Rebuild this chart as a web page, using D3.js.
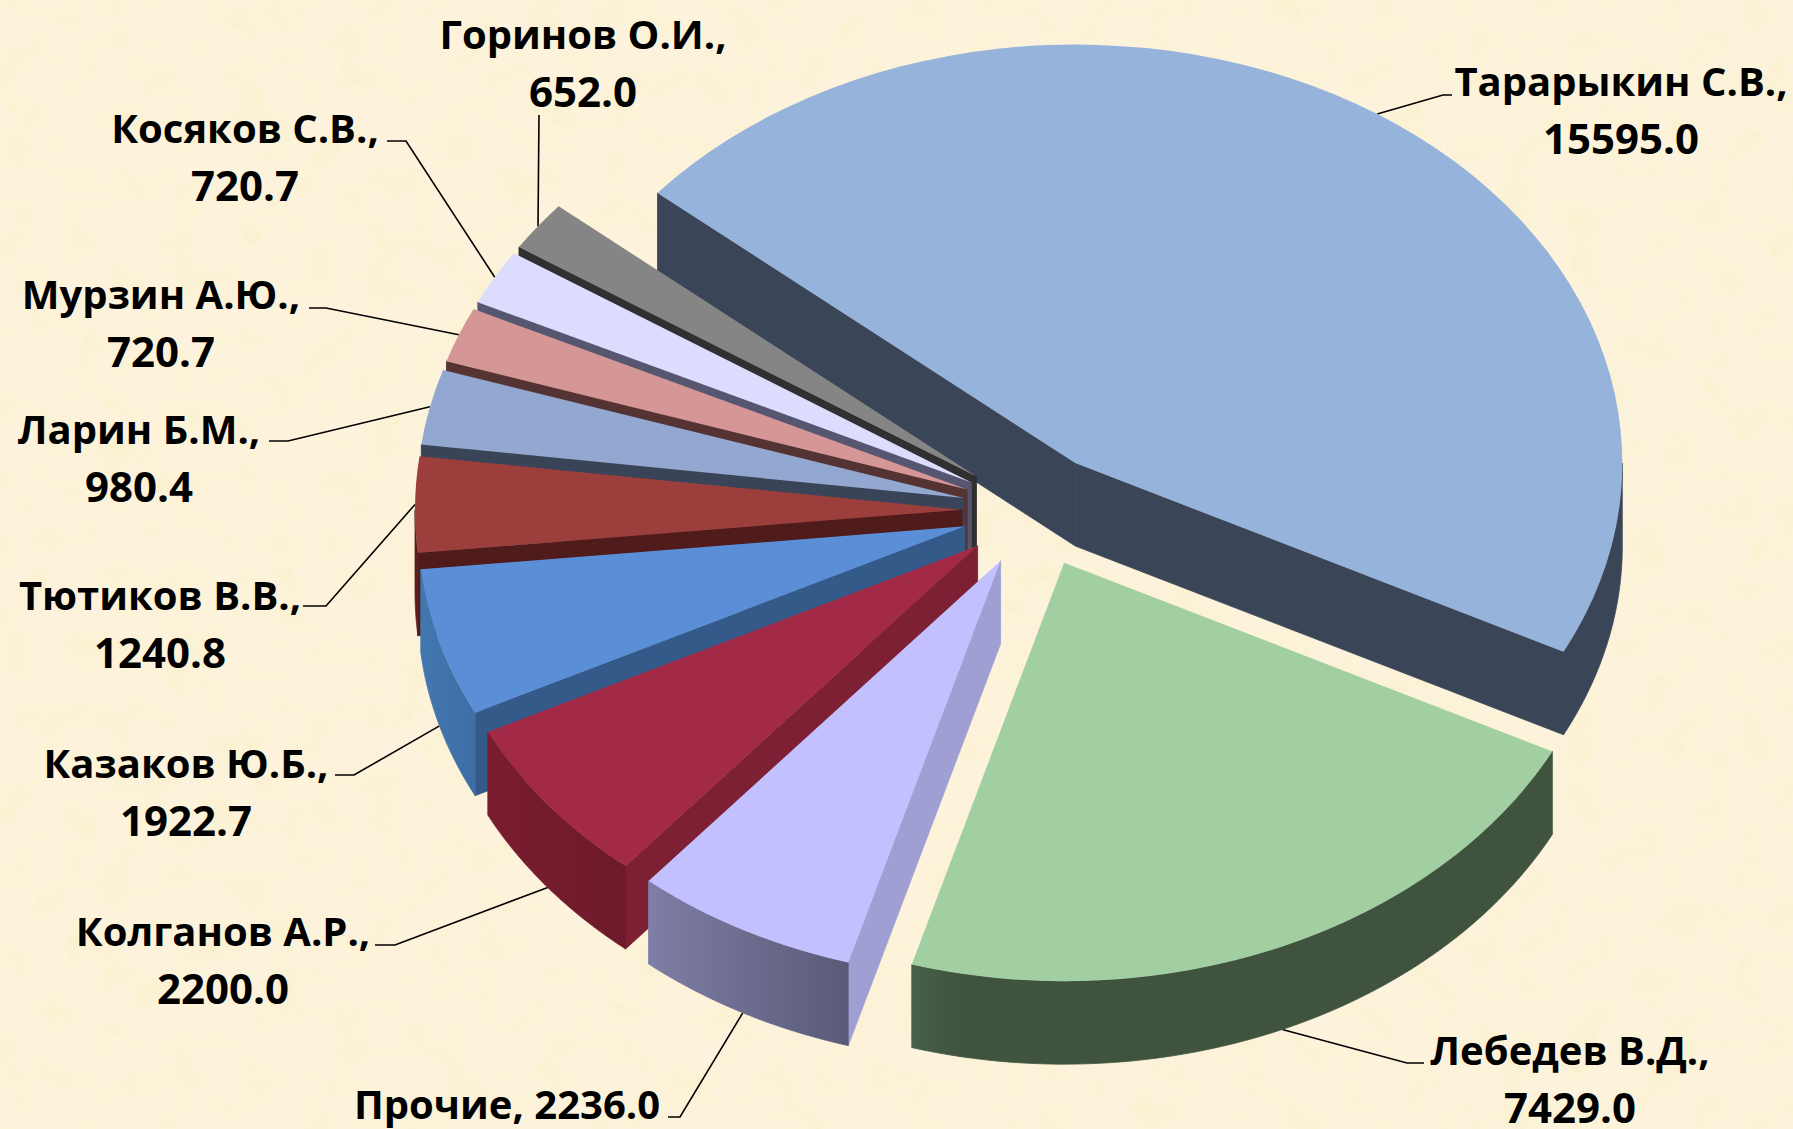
<!DOCTYPE html>
<html><head><meta charset="utf-8">
<script src="https://cdnjs.cloudflare.com/ajax/libs/d3/7.8.5/d3.min.js"></script>
<style>html,body{margin:0;padding:0;background:#fcf2da;overflow:hidden}svg{display:block}
text{font-family:"Open Sans","Noto Sans",sans-serif;font-weight:700;fill:#000}</style>
</head><body><svg id="c" width="1793" height="1129"></svg>
<script>
const categories=["Тарарыкин С.В.","Лебедев В.Д.","Прочие","Колганов А.Р.","Казаков Ю.Б.","Тютиков В.В.","Ларин Б.М.","Мурзин А.Ю.","Косяков С.В.","Горинов О.И."];
const values=[15595.0,7429.0,2236.0,2200.0,1922.7,1240.8,980.4,720.7,720.7,652.0];
const topColors=["#96b3db","#a1cfa1","#c2c0ff","#a32a47","#5a8fd8","#9b3e3c","#92a8d1","#d59696","#dcdcff","#858585"];
const wallColors=["#3a4658","#3f533e","#9f9fd3","#7d2033","#345a8a","#4f1b1b","#3a4458","#553333","#565670","#303030"];
const rimLeft=["#3a4658","#46604a","#7e7ea6","#7a1c30","#4277b0","#5a1c1c","#3a4458","#553333","#565670","#303030"];
const rimRight=["#3a4658","#3f533e","#5a5a78","#6d1a2b","#3f6ea6","#5a1c1c","#3a4458","#553333","#565670","#303030"];
// label block centre x, first-line centre y, leader elbow x,y and end x
const labelLayout=[
 {x:1621,y:79.5,ex:1443,ey:95,tx:1452},
 {x:1570,y:1048.5,ex:1407,ey:1063,tx:1424},
 {x:507,y:1103,ex:680,ey:1117,tx:668},
 {x:223,y:929.5,ex:395,ey:945,tx:375},
 {x:186,y:761.5,ex:354,ey:775,tx:335},
 {x:160,y:593.5,ex:326,ey:606,tx:303},
 {x:139,y:427.5,ex:288,ey:441,tx:269},
 {x:161,y:292.5,ex:326,ey:308,tx:309},
 {x:245,y:126.5,ex:406,ey:141,tx:387},
 {x:583,y:32.5,ex:539,ey:115,tx:539}
];
const oneLine=new Set([2]);

const cx=1035,cy=510.5,R=547,k=0.765,kE=0.78,depth=83,explode=73;
const svg=d3.select("#c");
const defs=svg.append("defs");
const f=defs.append("filter").attr("id","paper").attr("x",0).attr("y",0).attr("width","100%").attr("height","100%");
f.append("feTurbulence").attr("type","fractalNoise").attr("baseFrequency",0.03).attr("numOctaves",4).attr("seed",7);
f.append("feColorMatrix").attr("type","matrix").attr("values","0 0 0 0 0.95  0 0 0 0 0.88  0 0 0 0 0.62  3.2 0 0 0 -1.35");
svg.append("rect").attr("width",1793).attr("height",1129).attr("fill","#fdf3dc");
svg.append("rect").attr("width",1793).attr("height",1129).attr("filter","url(#paper)").attr("opacity",.6);

const a0=-49.8*Math.PI/180;
const pie=d3.pie().sort(null).startAngle(a0).endAngle(a0+2*Math.PI);
const arcs=pie(values).map((d,i)=>{
  const mid=(d.startAngle+d.endAngle)/2;
  return {...d,i,mid,ox:cx+explode*Math.sin(mid),oy:cy-explode*Math.cos(mid)*kE};
});
const sx=d3.scaleLinear().domain([-1,1]).range([-R,R]);
const sy=d3.scaleLinear().domain([-1,1]).range([-R*k,R*k]);
const pt=(s,a,z=0)=>[s.ox+sx(Math.sin(a)),s.oy-sy(Math.cos(a))+z];
const line=d3.line();
const arcGen=d3.arc().innerRadius(0).outerRadius(R);

// leaders behind the pie
const gl=svg.append("g").attr("fill","none").attr("stroke","#000").attr("stroke-width",1.6);
arcs.forEach(s=>{
  const l=labelLayout[s.i];
  const vis=Math.cos(s.mid)<0;
  const p=pt(s,s.mid,vis?depth:0);
  gl.append("path").attr("d",line([p,[l.ex,l.ey],[l.tx,l.ey]]));
});

// painter's order: back slice first, then around the left side to the front, green last
const order=[0,9,8,7,6,5,4,3,2,1];
const lo=Math.PI/2,hi=3*Math.PI/2;
order.forEach(i=>{
  const s=arcs[i],g=svg.append("g");
  const apex=[s.ox,s.oy];
  // only the cut faces turned toward the viewer
  const faces=[];
  if(Math.sin(s.startAngle)<0)faces.push(pt(s,s.startAngle));
  if(Math.sin(s.endAngle)>0)faces.push(pt(s,s.endAngle));
  faces.forEach(o=>{
    g.append("path").attr("fill",wallColors[i]).attr("stroke",wallColors[i]).attr("stroke-width",.8)
     .attr("d",line([apex,o,[o[0],o[1]+depth],[apex[0],apex[1]+depth]])+"Z");
  });
  // outer rim, only its front half
  const ra=Math.max(s.startAngle,lo),rb=Math.min(s.endAngle,hi);
  if(rb>ra){
    const steps=d3.range(0,61).map(t=>ra+(rb-ra)*t/60);
    const up=steps.map(a=>pt(s,a)),dn=steps.map(a=>pt(s,a,depth)).reverse();
    const xs=up.map(p=>p[0]);
    const gid="rim"+i;
    const lg=defs.append("linearGradient").attr("id",gid).attr("gradientUnits","userSpaceOnUse")
      .attr("x1",d3.min(xs)).attr("x2",d3.max(xs)).attr("y1",0).attr("y2",0);
    lg.append("stop").attr("offset",0).attr("stop-color",rimLeft[i]);
    lg.append("stop").attr("offset",i==1?.08:1).attr("stop-color",rimRight[i]);
    g.append("path").attr("fill",`url(#${gid})`).attr("stroke",`url(#${gid})`).attr("stroke-width",.8)
     .attr("d",line(up.concat(dn))+"Z");
  }
  g.append("path").attr("fill",topColors[i])
   .attr("transform",`translate(${s.ox},${s.oy}) scale(1,${k})`)
   .attr("d",arcGen(s));
});

// labels
const fs=40,fsNum=42,lh=57;
arcs.forEach(s=>{
  const l=labelLayout[s.i],v=values[s.i].toFixed(1),nm=categories[s.i];
  const t=svg.append("text").attr("font-size",fs).attr("text-anchor","middle").attr("dominant-baseline","central");
  if(oneLine.has(s.i)){t.attr("x",l.x).attr("y",l.y).text(nm+", "+v);}
  else{
    t.append("tspan").attr("x",l.x).attr("y",l.y).text(nm+",");
    t.append("tspan").attr("x",l.x).attr("y",l.y+lh).attr("font-size",fsNum).text(v);
  }
});
</script></body></html>
